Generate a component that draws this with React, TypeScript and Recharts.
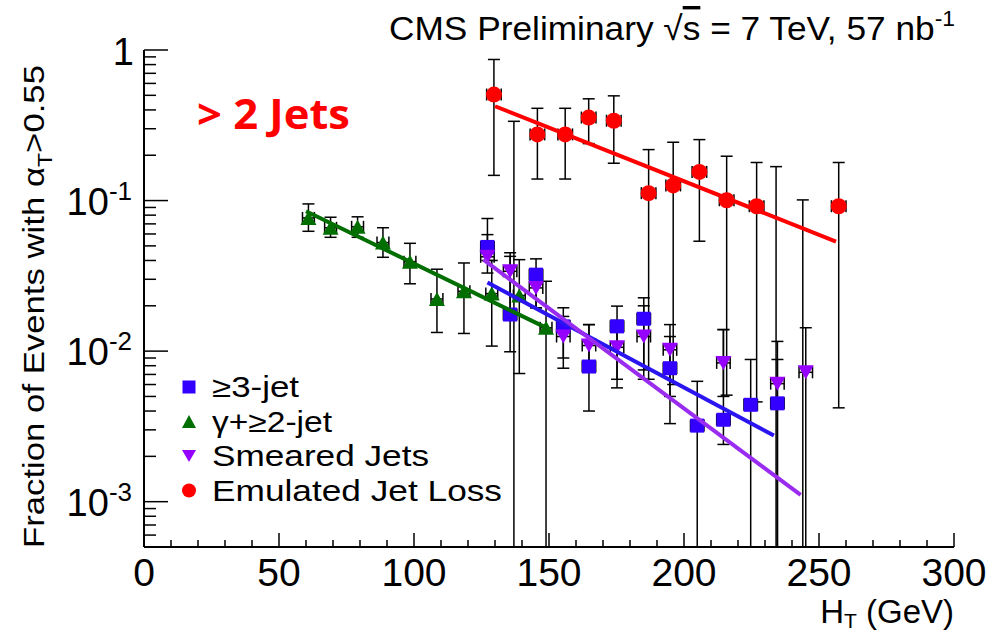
import React from "react";
import { ScatterChart, Scatter, XAxis, YAxis, ErrorBar, Legend } from "recharts";

const FONT = "'Liberation Sans', Arial, Helvetica, sans-serif";
const Y_MIN = 5e-4;

const BLUE = "#3300ff";
const BLUE_LINE = "#2a14f0";
const GREEN = "#006e00";
const PURPLE = "#9600ff";
const PURPLE_LINE = "#9a2cf0";
const RED = "#ff0000";

// >=3-jet (HT bin centre, fraction, error-bar low / high ends)
const jet3X = [127.2, 135.6, 145.2, 155.3, 164.8, 175.2, 185.1, 194.8, 204.9, 214.6, 224.7, 234.6];
const jet3Y = [0.0492, 0.0175, 0.0322, 0.0146, 0.0079, 0.0146, 0.0164, 0.0077, 0.0032, 0.0035, 0.0044, 0.0045];
const jet3Lo = [0.04, 0.0099, 0.0194, 0.0077, 0.004, 0.0057, 0.0065, 0.0033, Y_MIN, 0.0024, Y_MIN, Y_MIN];
const jet3Hi = [0.076, 0.0426, 0.041, 0.0194, 0.015, 0.0199, 0.0226, 0.0125, 0.0063, 0.0139, 0.0088, 0.0116];

// gamma + >=2-jet
const gamX = [60.9, 69.1, 79.1, 88.5, 98.5, 108.5, 118.5, 128.8, 139.0, 148.9];
const gamY = [0.0767, 0.0659, 0.0669, 0.0526, 0.0393, 0.0222, 0.025, 0.0241, 0.0234, 0.0143];
const gamLo = [0.0625, 0.057, 0.057, 0.042, 0.028, 0.0133, 0.0131, 0.0108, 0.0071, Y_MIN];
const gamHi = [0.095, 0.0775, 0.078, 0.066, 0.052, 0.035, 0.0385, 0.04, 0.0405, 0.0291];

// smeared jets
const smX = [127.2, 135.6, 145.2, 155.3, 164.8, 175.2, 185.1, 194.8, 214.6, 234.6, 245.1];
const smY = [0.0423, 0.0339, 0.0263, 0.0125, 0.0109, 0.0106, 0.0125, 0.0102, 0.00835, 0.00608, 0.00723];
const smLo = [0.033, 0.018, 0.0194, 0.009, 0.0075, 0.0065, 0.0075, 0.005, 0.005, Y_MIN, Y_MIN];
const smHi = [0.0594, 0.045, 0.034, 0.017, 0.015, 0.016, 0.02, 0.015, 0.0139, 0.0088, 0.0143];

// emulated jet loss
const emX = [129.6, 145.7, 156.0, 164.7, 174.0, 186.9, 196.0, 205.7, 215.8, 226.9, 257.3];
const emY = [0.506, 0.275, 0.275, 0.356, 0.339, 0.112, 0.126, 0.155, 0.1005, 0.0917, 0.0917];
const emLo = [0.147, 0.139, 0.139, 0.239, 0.177, 0.0065, 0.006, 0.0537, 0.0051, 0.0046, 0.0042];
const emHi = [0.865, 0.41, 0.41, 0.474, 0.496, 0.218, 0.244, 0.254, 0.197, 0.179, 0.179];
// empty emulated bins: only the upper error is shown
const emZeroX = [137.0, 234.1, 244.0];
const emZeroHi = [0.336, 0.168, 0.101];

// exponential fits (end points)
const jet3FitX = [127.2, 233.3];
const jet3FitY = [0.0286, 0.00275];
const gamFitX = [60, 150.4];
const gamFitY = [0.0849, 0.0139];
const smFitX = [125.7, 243.2];
const smFitY = [0.0405, 0.00111];
const emFitX = [130, 256.3];
const emFitY = [0.423, 0.0534];

const LEGEND_ORDER = ["≥3-jet", "γ+≥2-jet", "Smeared Jets", "Emulated Jet Loss"];

const X_TICKS = Array.from({ length: 31 }, (_, i) => i * 10);
const Y_TICKS: number[] = [];
for (const d of [1e-4, 1e-3, 1e-2, 1e-1]) {
  for (let m = 1; m <= 9; m++) {
    const v = Number((m * d).toPrecision(3));
    if (v >= Y_MIN) Y_TICKS.push(v);
  }
}
Y_TICKS.push(1);

function points(xs: number[], ys: number[], lo: number[], hi: number[], ex: number) {
  return xs.map((x, i) => ({ x, y: ys[i], ey: [ys[i] - lo[i], hi[i] - ys[i]], ex }));
}
function line(xs: number[], ys: number[]) {
  return xs.map((x, i) => ({ x, y: ys[i] }));
}

const jet3Data = points(jet3X, jet3Y, jet3Lo, jet3Hi, 2.5);
const gamData = points(gamX, gamY, gamLo, gamHi, 2.2);
const smData = points(smX, smY, smLo, smHi, 2.5);
const emData = points(emX, emY, emLo, emHi, 2.7);
const emZeroData = emZeroX.map((x, i) => ({ x, y: Y_MIN, ey: [0, emZeroHi[i] - Y_MIN] }));

const isDecade = (v: number) => Math.abs(Math.log10(v) - Math.round(Math.log10(v))) < 1e-6;

function BottomTick({ x, y, payload }: any) {
  const v = payload.value;
  const major = v % 50 === 0;
  return (
    <g>
      <line x1={x} x2={x} y1={y} y2={y - (major ? 14 : 7)} stroke="#000" strokeWidth={1.5} />
      {major && (
        <text x={x} y={y + 39} textAnchor="middle" fontSize={39} fontFamily={FONT} fill="#000">
          {v}
        </text>
      )}
    </g>
  );
}

function TopTick({ x, y, payload }: any) {
  const major = payload.value % 50 === 0;
  return <line x1={x} x2={x} y1={y} y2={y + (major ? 14 : 7)} stroke="#000" strokeWidth={1.5} />;
}

function LeftTick({ x, y, payload }: any) {
  const v = payload.value;
  const major = isDecade(v);
  const e = Math.round(Math.log10(v));
  return (
    <g>
      <line x1={x} x2={x + (major ? 24 : 12)} y1={y} y2={y} stroke="#000" strokeWidth={1.5} />
      {major && e === 0 && (
        <text x={x - 10} y={y + 15} textAnchor="end" fontSize={38} fontFamily={FONT} fill="#000">
          1
        </text>
      )}
      {major && e < 0 && (
        <text x={x - 12} y={y + 14} textAnchor="end" fontSize={38} fontFamily={FONT} fill="#000">
          10
          <tspan dy={-15} fontSize={26}>
            {e}
          </tspan>
        </text>
      )}
    </g>
  );
}

function RightTick({ x, y, payload }: any) {
  const major = isDecade(payload.value);
  return <line x1={x} x2={x - (major ? 24 : 12)} y1={y} y2={y} stroke="#000" strokeWidth={1.5} />;
}

const squareShape = (color: string, s: number) => (p: any) =>
  <rect x={p.cx - s / 2} y={p.cy - s / 2} width={s} height={s} fill={color} />;
const triUpShape = (color: string, w: number, h: number) => (p: any) =>
  <polygon points={`${p.cx - w / 2},${p.cy + h / 2} ${p.cx + w / 2},${p.cy + h / 2} ${p.cx},${p.cy - h / 2}`} fill={color} />;
const triDownShape = (color: string, w: number, h: number) => (p: any) =>
  <polygon points={`${p.cx - w / 2},${p.cy - h / 2} ${p.cx + w / 2},${p.cy - h / 2} ${p.cx},${p.cy + h / 2}`} fill={color} />;
const circleShape = (color: string, r: number) => (p: any) => <circle cx={p.cx} cy={p.cy} r={r} fill={color} />;
const noShape = () => <g />;

const LEGEND_ROWS: Record<string, { marker: (p: any) => React.ReactElement; len: number }> = {
  "≥3-jet": { marker: squareShape(BLUE, 13), len: 87 },
  "γ+≥2-jet": { marker: triUpShape(GREEN, 14, 13), len: 120 },
  "Smeared Jets": { marker: triDownShape(PURPLE, 14, 12), len: 217 },
  "Emulated Jet Loss": { marker: circleShape(RED, 7), len: 290 },
};

function LegendBox({ payload }: any) {
  const names = (payload || []).map((p: any) => p.value);
  const items = LEGEND_ORDER.filter((n) => names.includes(n));
  return (
    <svg width={340} height={145}>
      {items.map((name: string, i: number) => {
        const cy = 22 + i * 34.5;
        const row = LEGEND_ROWS[name];
        return (
          <g key={name}>
            {row.marker({ cx: 14, cy })}
            <text
              x={37}
              y={cy + 10}
              fontSize={29}
              fontFamily={FONT}
              fill="#000"
              textLength={row.len}
              lengthAdjust="spacingAndGlyphs"
            >
              {name}
            </text>
          </g>
        );
      })}
    </svg>
  );
}

const errProps = { stroke: "#000", strokeWidth: 1.5, width: 6 };

export default function App() {
  return (
    <div style={{ position: "absolute", left: 0, top: 0, width: 1005, height: 634, background: "#fff" }}>
      <ScatterChart width={1005} height={634} margin={{ top: 50, right: 51, bottom: 0, left: 0 }}>
        <XAxis
          xAxisId={0}
          type="number"
          dataKey="x"
          domain={[0, 300]}
          ticks={X_TICKS}
          interval={0}
          height={87}
          tickSize={0}
          tickMargin={0}
          tick={BottomTick}
          axisLine={{ stroke: "#000", strokeWidth: 2 }}
          allowDataOverflow
        />
        <XAxis
          xAxisId="top"
          orientation="top"
          type="number"
          dataKey="x"
          domain={[0, 300]}
          ticks={X_TICKS}
          interval={0}
          height={0}
          tickSize={0}
          tickMargin={0}
          tick={TopTick}
          axisLine={{ stroke: "#000", strokeWidth: 2 }}
          allowDataOverflow
        />
        <YAxis
          yAxisId={0}
          type="number"
          dataKey="y"
          scale="log"
          domain={[Y_MIN, 1]}
          ticks={Y_TICKS}
          interval={0}
          width={144}
          tickSize={0}
          tickMargin={0}
          tick={LeftTick}
          axisLine={{ stroke: "#000", strokeWidth: 2 }}
          allowDataOverflow
        />
        <YAxis
          yAxisId="right"
          orientation="right"
          type="number"
          dataKey="y"
          scale="log"
          domain={[Y_MIN, 1]}
          ticks={Y_TICKS}
          interval={0}
          width={0}
          tickSize={0}
          tickMargin={0}
          tick={RightTick}
          axisLine={{ stroke: "#000", strokeWidth: 2 }}
          allowDataOverflow
        />

        <Scatter name="≥3-jet" data={jet3Data} fill={BLUE} shape={squareShape(BLUE, 14)} isAnimationActive={false}>
          <ErrorBar dataKey="ey" direction="y" {...errProps} />
          <ErrorBar dataKey="ex" direction="x" {...errProps} />
        </Scatter>
        <Scatter name="γ+≥2-jet" data={gamData} fill={GREEN} shape={triUpShape(GREEN, 16, 14)} isAnimationActive={false}>
          <ErrorBar dataKey="ey" direction="y" {...errProps} />
          <ErrorBar dataKey="ex" direction="x" {...errProps} />
        </Scatter>
        <Scatter name="Smeared Jets" data={smData} fill={PURPLE} shape={triDownShape(PURPLE, 16, 14)} isAnimationActive={false}>
          <ErrorBar dataKey="ey" direction="y" {...errProps} />
          <ErrorBar dataKey="ex" direction="x" {...errProps} />
        </Scatter>
        <Scatter name="Emulated Jet Loss" data={emData} fill={RED} shape={circleShape(RED, 8)} isAnimationActive={false}>
          <ErrorBar dataKey="ey" direction="y" {...errProps} />
          <ErrorBar dataKey="ex" direction="x" {...errProps} />
        </Scatter>
        <Scatter name="empty bins" data={emZeroData} shape={noShape} legendType="none" isAnimationActive={false}>
          <ErrorBar dataKey="ey" direction="y" {...errProps} />
        </Scatter>

        <Scatter name="fit3" data={line(jet3FitX, jet3FitY)} shape={noShape} line={{ stroke: BLUE_LINE, strokeWidth: 4 }} legendType="none" isAnimationActive={false} />
        <Scatter name="fitg" data={line(gamFitX, gamFitY)} shape={noShape} line={{ stroke: GREEN, strokeWidth: 4 }} legendType="none" isAnimationActive={false} />
        <Scatter name="fits" data={line(smFitX, smFitY)} shape={noShape} line={{ stroke: PURPLE_LINE, strokeWidth: 4 }} legendType="none" isAnimationActive={false} />
        <Scatter name="fite" data={line(emFitX, emFitY)} shape={noShape} line={{ stroke: RED, strokeWidth: 4 }} legendType="none" isAnimationActive={false} />

        <Legend
          layout="horizontal"
          verticalAlign="middle"
          align="center"
          content={(props: any) => <LegendBox payload={props.payload} />}
          wrapperStyle={{ left: 175, top: 365, width: 340, height: 145 }}
        />
      </ScatterChart>

      <svg
        width={1005}
        height={634}
        style={{ position: "absolute", left: 0, top: 0, pointerEvents: "none" }}
      >
        <text x={955} y={40} textAnchor="end" fontSize={34} fontFamily={FONT} fill="#000" textLength={566} lengthAdjust="spacingAndGlyphs">
          CMS Preliminary √<tspan style={{ textDecoration: "overline" }}>s</tspan> = 7 TeV, 57 nb
          <tspan dy={-14} fontSize={22}>-1</tspan>
        </text>
        <text
          transform="translate(44, 548) rotate(-90)"
          x={0}
          y={0}
          fontSize={30}
          fontFamily={FONT}
          fill="#000"
          textLength={483}
          lengthAdjust="spacingAndGlyphs"
        >
          Fraction of Events with α<tspan dy={8} fontSize={20}>T</tspan>
          <tspan dy={-8}>&gt;0.55</tspan>
        </text>
        <text x={954} y={623} textAnchor="end" fontSize={33} fontFamily={FONT} fill="#000">
          H<tspan dy={5} fontSize={21}>T</tspan>
          <tspan dy={-5}> (GeV)</tspan>
        </text>
        <text x={197} y={129} fontSize={42} fontWeight="bold" fontFamily="'Open Sans', sans-serif" fill={RED} textLength={153} lengthAdjust="spacingAndGlyphs">
          &gt; 2 Jets
        </text>
      </svg>
    </div>
  );
}
